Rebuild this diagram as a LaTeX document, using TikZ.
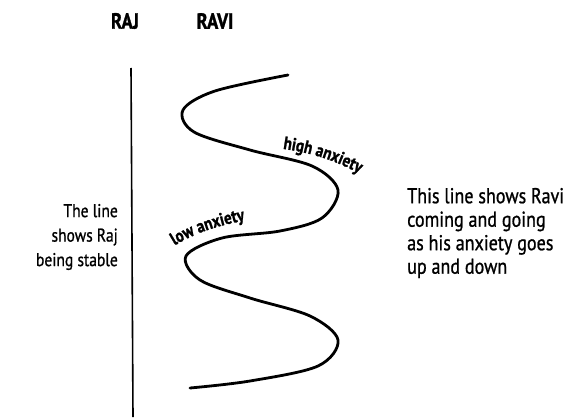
\documentclass[tikz,border=0pt]{standalone}
\usepackage{fontspec}
\usetikzlibrary{decorations.text}
\setmainfont{PT Sans}[FakeStretch=0.84]
\newfontfamily\notefont{PT Sans}[FakeStretch=0.84, FakeBold=0.9]
\newfontfamily\headfont{PT Sans}[FakeStretch=0.84, BoldFeatures={FakeBold=1.2}]
\begin{document}
\begin{tikzpicture}[x=1pt,y=-1pt,
  heading/.style={font=\headfont\bfseries\fontsize{22}{24}\selectfont, inner sep=0pt},
  leftnote/.style={font=\notefont\fontsize{18.5}{24.5}\selectfont, inner sep=0pt},
  rightnote/.style={font=\notefont\fontsize{21.5}{23.5}\selectfont, inner sep=0pt},
  wavelabel/.style={decorate, decoration={text along path, text align=center,
    text={|\headfont\bfseries\fontsize{18}{20}\selectfont|#1}}},
  stable/.style={line width=1.6pt},
  wave/.style={line width=2.8pt, line cap=round}]
  \useasboundingbox (0,0) rectangle (569,417);

  % column headings
  \node[heading] (raj)  at (125,21) {RAJ};
  \node[heading] (ravi) at (215,21) {RAVI};

  % Raj: a straight, steady line
  \draw[stable] (131,68) -- (133,417);

  % Ravi: a line swinging left and right
  \draw[wave] plot[smooth, tension=0.55] coordinates {
    (288,75) (215,91) (183,110) (194,132) (250,150) (312,166) (338,190)
    (322,218) (280,231) (222,238) (186,256) (200,280) (250,298)
    (310,316) (338,340) (318,366) (250,381) (190,388)};

  % labels bending along the wave (upward y axis, so the letters are not mirrored)
  \begin{scope}[y=1pt]
    \path[wavelabel={high anxiety}]
      (268,-147) .. controls (305,-151) and (335,-158) .. (372,-181);
    \path[wavelabel={low anxiety}]
      (162,-254) .. controls (185,-237) and (212,-225) .. (260,-218);
  \end{scope}

  % explanations
  \node[leftnote, anchor=east, align=right] (rajnote) at (118,237)
    {The line\\shows Raj\\being stable};
  \node[rightnote, anchor=west, align=left] (ravinote) at (407,233)
    {This line shows Ravi\\coming and going\\as his anxiety goes\\up and down};
\end{tikzpicture}
\end{document}
